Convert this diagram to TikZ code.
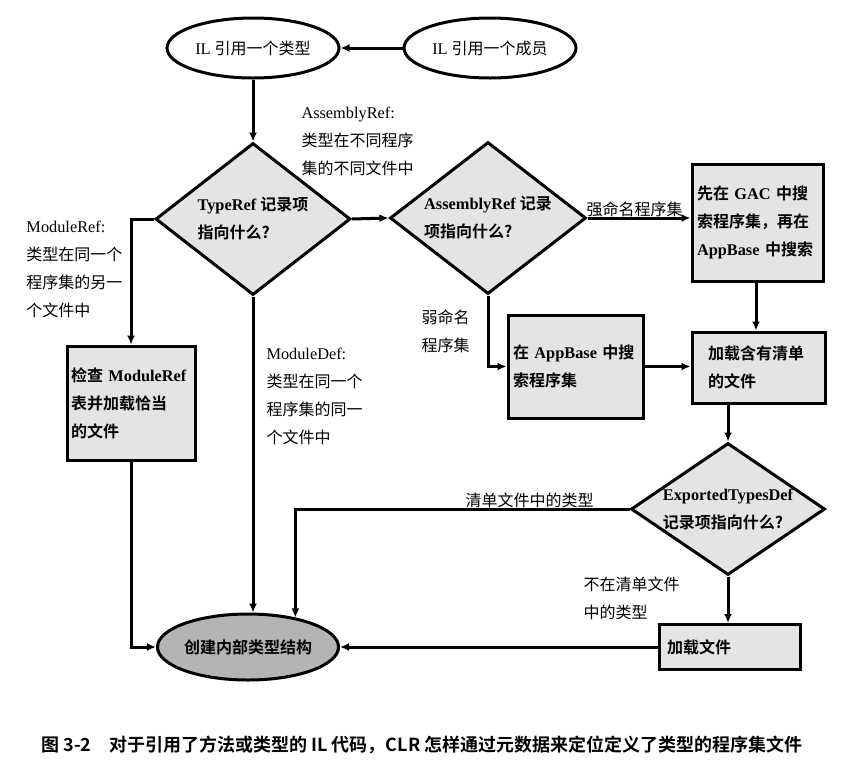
\documentclass[tikz,border=0pt]{standalone}
\usepackage{fontspec}
\setmainfont{Liberation Serif}[Scale=1.02]
\newfontfamily\cjk{Noto Sans CJK SC}[BoldFont={Noto Sans CJK SC Bold}]
\usetikzlibrary{shapes.geometric,arrows.meta}
\newcommand\zh[1]{{\cjk #1}}
\definecolor{lightfill}{HTML}{E4E4E4}
\definecolor{darkfill}{HTML}{B4B4B4}
\begin{document}
\begin{tikzpicture}[x=1pt,y=-1pt,
  line width=3pt,
  font=\fontsize{16}{28}\selectfont,
  conn/.style={-{Latex[length=9pt,width=8pt]}, line width=3pt},
  startell/.style={ellipse, draw, fill=white, minimum width=172pt, minimum height=60pt, inner sep=0pt},
  dia/.style={diamond, draw, fill=lightfill, inner sep=0pt},
  boxnode/.style={rectangle, draw, fill=lightfill, align=left, font=\fontsize{16}{28}\selectfont\bfseries, inner ysep=0pt},
  lbl/.style={align=left, inner sep=0pt, font=\fontsize{16}{28}\selectfont},
  diatext/.style={align=left, inner sep=0pt, font=\fontsize{16}{28}\selectfont\bfseries},
]
\useasboundingbox (0,0) rectangle (854,764);
\fill[white] (0,0) rectangle (854,764);

% start ellipses
\node[startell] (typ) at (253,48) {IL \zh{引用一个类型}};
\node[startell] (mem) at (490,48) {IL \zh{引用一个成员}};

% diamonds
\node[dia, minimum width=195pt, minimum height=152pt,
  label={[diatext]center:TypeRef \zh{记录项}\\\zh{指向什么?}}] (TR) at (253,219) {};
\node[dia, minimum width=196pt, minimum height=152pt,
  label={[diatext]center:AssemblyRef \zh{记录}\\\zh{项指向什么?}}] (AR) at (488,218) {};
\node[dia, minimum width=194pt, minimum height=132pt,
  label={[diatext]center:ExportedTypesDef\\\zh{记录项指向什么?}}] (ETD) at (728,509) {};

% boxes
\node[boxnode, text width=121pt, inner xsep=5pt, minimum height=117pt] (gac) at (757.5,222.5)
  {\zh{先在} GAC \zh{中搜}\\\zh{索程序集，再在}\\AppBase \zh{中搜索}};
\node[boxnode, text width=101pt, inner xsep=16pt, minimum height=71pt] (load) at (758.5,367.5)
  {\zh{加载含有清单}\\\zh{的文件}};
\node[boxnode, text width=125pt, inner xsep=5pt, minimum height=103pt] (appb) at (575.5,366.5)
  {\zh{在} AppBase \zh{中搜}\\\zh{索程序集}};
\node[boxnode, text width=120pt, inner xsep=4pt, minimum height=114pt] (chk) at (131,403)
  {\zh{检查} ModuleRef\\\zh{表并加载恰当}\\\zh{的文件}};
\node[boxnode, text width=125pt, inner xsep=8pt, minimum height=45pt] (lf) at (729.5,647)
  {\zh{加载文件}};

% end ellipse
\node[ellipse, draw, fill=darkfill, minimum width=170pt, minimum height=66pt, inner sep=0pt,
  font=\fontsize{16}{28}\selectfont\bfseries] (cr) at (248,647) {\zh{创建内部类型结构}};

% labels
\node[lbl, anchor=north west] (l1) at (300,106) {AssemblyRef:\\\zh{类型在不同程序}\\\zh{集的不同文件中}};
\node[lbl, anchor=north west] (l2) at (25,220) {ModuleRef:\\\zh{类型在同一个}\\\zh{程序集的另一}\\\zh{个文件中}};
\node[lbl, anchor=north west] (l3) at (265,346) {ModuleDef:\\\zh{类型在同一个}\\\zh{程序集的同一}\\\zh{个文件中}};
\node[lbl, anchor=north west] (l4) at (420,308) {\zh{弱命名}\\\zh{程序集}};
\node[lbl, anchor=base west] (l5) at (585,215) {\zh{强命名程序集}};
\node[lbl, anchor=base west] (l6) at (464,506) {\zh{清单文件中的类型}};
\node[lbl, anchor=north west] (l7) at (582,575) {\zh{不在清单文件}\\\zh{中的类型}};

% caption
\node[inner sep=0pt, font=\cjk\bfseries\fontsize{18}{22}\selectfont] (cap) at (422,745)
  {图 3-2\hspace{1em}对于引用了方法或类型的 IL 代码，CLR 怎样通过元数据来定位定义了类型的程序集文件};

% connectors
\draw[conn] (mem) -- (typ);
\draw[conn] (typ) -- (TR.north);
\draw[conn] (TR.east) -- (AR.west);
\draw[conn] (TR.west) -| (chk.north);
\draw[conn] (TR.south) -- (TR.south |- cr.north);
\draw[conn] (chk.south) |- (cr.west);
\draw[conn] (AR.east) -- (AR.east -| gac.west);
\draw[conn] (AR.south) |- (appb.west);
\draw[conn] (appb.east) -- (appb.east -| load.west);
\draw[conn] (gac.south -| 756,0) -- (load.north -| 756,0);
\draw[conn] (load.south -| ETD.north) -- (ETD.north);
\draw[conn] (ETD.west) -| (cr.32);
\draw[conn] (ETD.south) -- (ETD.south |- lf.north);
\draw[conn] (lf.west) -- (cr.east);
\end{tikzpicture}
\end{document}
